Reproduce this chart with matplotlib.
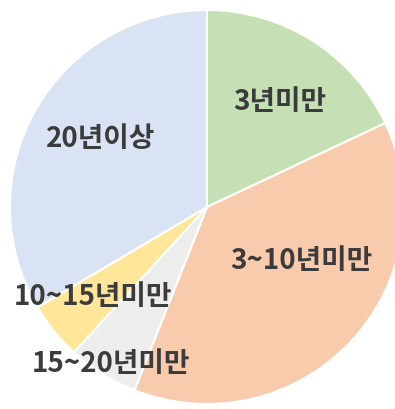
import matplotlib
matplotlib.use("Agg")
import matplotlib.pyplot as plt

plt.rcParams['font.family'] = ['Noto Sans CJK KR', 'DejaVu Sans']

# career length shares (%)
labels = ['3년미만', '3~10년미만', '15~20년미만', '10~15년미만', '20년이상']
shares = [18.0, 38.0, 5.8, 4.7, 33.5]
colors = ['#C5E0B4', '#F8CBAD', '#EDEDED', '#FFE699', '#DAE3F3']

# label spots inside the pie (x, y in pie radius units)
label_xy = [(0.37, 0.54), (0.48, -0.27), (-0.49, -0.79), (-0.58, -0.45), (-0.54, 0.35)]

fig = plt.figure(figsize=(3.95, 4.10), dpi=100)
ax = fig.add_axes([10 / 395, 5 / 410, 394 / 395, 394 / 410])

wedges, _ = ax.pie(shares, colors=colors, startangle=90, counterclock=False,
                   radius=1.0, wedgeprops=dict(edgecolor='white', linewidth=1.5))

for lab, (x, y) in zip(labels, label_xy):
    ax.text(x, y, lab, ha='center', va='center', fontsize=20,
            fontweight='bold', color='#3B3B3B')

ax.set_xlim(-1, 1)
ax.set_ylim(-1, 1)
ax.set_aspect('equal')
ax.axis('off')

fig.savefig('out.png', dpi=100)
